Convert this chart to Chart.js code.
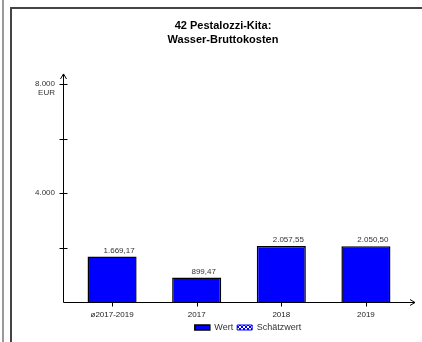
<!DOCTYPE html>
<html>
<head>
<meta charset="utf-8">
<script src="https://cdn.jsdelivr.net/npm/chart.js"></script>
<style>
  body { margin: 0; background: #fff; overflow: hidden; }
  #edge { position: absolute; left: 2px; top: 0; width: 2px; height: 342px; background: #999; }
  #frame { position: absolute; left: 10px; top: 7px; width: 410px; height: 335px;
           border-left: 2px solid #444; border-top: 2px solid #444; }
  canvas { display: block; }
</style>
</head>
<body>
<div id="edge"></div>
<div id="frame"><canvas id="myChart" width="410" height="335"></canvas></div>
<script>
var categories = ['ø2017-2019', '2017', '2018', '2019'];
var wert = [1669.17, 899.47, 2057.55, 2050.50];
var yTicks = [2000, 4000, 6000, 8000];
var yLabeled = [4000, 8000];
var yUnit = 'EUR';

var fontFamily = '"Liberation Sans", Arial, sans-serif';

// hatched fill for the "Schätzwert" legend box
var pat = document.createElement('canvas');
pat.width = 4; pat.height = 4;
var pctx = pat.getContext('2d');
pctx.fillStyle = '#fff';
pctx.fillRect(0, 0, 4, 4);
pctx.strokeStyle = '#0000ff';
pctx.lineWidth = 1;
pctx.beginPath();
pctx.moveTo(0, 0); pctx.lineTo(4, 4);
pctx.moveTo(4, 0); pctx.lineTo(0, 4);
pctx.stroke();

function fmt(v) {
  return v.toLocaleString('de-DE', {minimumFractionDigits: 2, maximumFractionDigits: 2});
}

var axesPlugin = {
  id: 'axes',
  afterDatasetsDraw: function(chart) {
    var ctx = chart.ctx, a = chart.chartArea;
    var xs = chart.scales.x, ys = chart.scales.y;
    var L = Math.round(a.left) + 0.5, B = Math.round(a.bottom) + 0.5;
    ctx.save();
    ctx.strokeStyle = '#000';
    ctx.lineWidth = 1;
    ctx.beginPath();
    ctx.moveTo(L, B); ctx.lineTo(L, a.top);
    ctx.moveTo(L - 3, a.top + 5); ctx.lineTo(L, a.top); ctx.lineTo(L + 3, a.top + 5);
    ctx.moveTo(L, B); ctx.lineTo(a.right, B);
    ctx.moveTo(a.right - 5, B - 3); ctx.lineTo(a.right, B); ctx.lineTo(a.right - 5, B + 3);
    yTicks.forEach(function(v) {
      var py = Math.round(ys.getPixelForValue(v)) + 0.5;
      ctx.moveTo(L - 4, py); ctx.lineTo(L + 4, py);
    });
    categories.forEach(function(c, i) {
      var px = Math.round(xs.getPixelForValue(i)) + 0.5;
      ctx.moveTo(px, B); ctx.lineTo(px, B + 4);
    });
    ctx.stroke();

    ctx.fillStyle = '#333';
    ctx.font = '8px ' + fontFamily;
    ctx.textAlign = 'right';
    ctx.textBaseline = 'middle';
    ctx.fillText(yUnit, ys.right - 8, ys.getPixelForValue(yTicks[yTicks.length - 1]) + 9);

    ctx.textAlign = 'center';
    ctx.textBaseline = 'bottom';
    chart.getDatasetMeta(0).data.forEach(function(bar, i) {
      ctx.fillText(fmt(wert[i]), bar.x + 7, bar.y - 2);
    });
    ctx.restore();
  },
  afterLayout: function(chart) {
    chart.legend.left += 9;
    chart.legend.right += 9;
  }
};

var ctx = document.getElementById('myChart').getContext('2d');
var myChart = new Chart(ctx, {
  type: 'bar',
  data: {
    datasets: [{
      label: 'Wert',
      data: wert.map(function(v, i) { return {x: i, y: v}; }),
      backgroundColor: '#0000ff',
      borderColor: '#000',
      borderWidth: 1.5,
      barPercentage: 1,
      categoryPercentage: 0.58
    }, {
      label: 'Schätzwert',
      data: [],
      backgroundColor: pctx.createPattern(pat, 'repeat'),
      borderColor: '#0000ff',
      borderWidth: 1
    }]
  },
  options: {
    responsive: false,
    animation: false,
    grouped: false,
    layout: { padding: { left: 19, right: 7, top: 1, bottom: 2 } },
    plugins: {
      title: {
        display: true,
        text: ['42 Pestalozzi-Kita:', 'Wasser-Bruttokosten'],
        color: '#000',
        font: { family: fontFamily, size: 11, weight: 'bold', lineHeight: 1.27 },
        padding: { top: 9, bottom: 27 }
      },
      legend: {
        position: 'bottom',
        fullSize: false,
        labels: {
          boxWidth: 15,
          boxHeight: 5,
          padding: 4,
          color: '#333',
          font: { family: fontFamily, size: 9 }
        }
      },
      tooltip: { enabled: false }
    },
    scales: {
      x: {
        type: 'linear',
        offset: false,
        min: -0.58,
        max: 3.58,
        grid: { display: false, drawTicks: false, offset: false },
        border: { display: false },
        afterBuildTicks: function(s) {
          s.ticks = categories.map(function(c, i) { return {value: i}; });
        },
        afterFit: function(s) { s.height = 17; },
        ticks: {
          autoSkip: false,
          maxRotation: 0,
          padding: 8,
          color: '#222',
          font: { family: fontFamily, size: 8 },
          callback: function(v) { return categories[v]; }
        }
      },
      y: {
        min: 0,
        max: 8380,
        grid: { display: false, drawTicks: false },
        border: { display: false },
        afterBuildTicks: function(s) {
          s.ticks = [0].concat(yTicks).map(function(v) { return {value: v}; });
        },
        afterFit: function(s) { s.width = 32; },
        ticks: {
          autoSkip: false,
          padding: 8,
          color: '#333',
          font: { family: fontFamily, size: 8 },
          callback: function(v) { return yLabeled.indexOf(v) >= 0 ? v.toLocaleString('de-DE') : ''; }
        }
      }
    }
  },
  plugins: [axesPlugin]
});
</script>
</body>
</html>
